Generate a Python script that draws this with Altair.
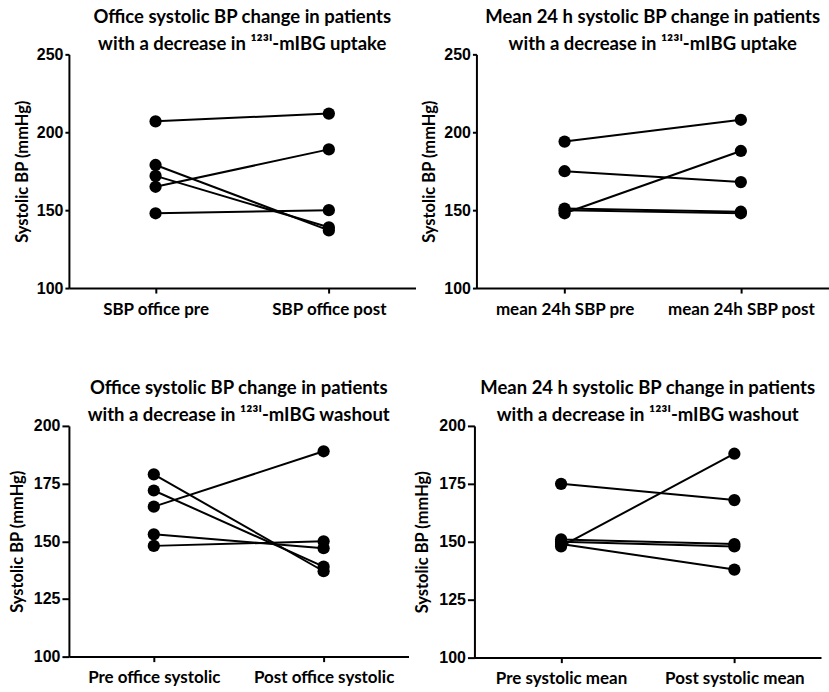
import altair as alt
import pandas as pd

# ---- data ----
p1_labels = ["SBP office pre", "SBP office post"]
p1_pre = [207, 179, 172, 165, 148]
p1_post = [212, 137, 139, 189, 150]

p2_labels = ["mean 24h SBP pre", "mean 24h SBP post"]
p2_pre = [194, 175, 148, 151, 150]
p2_post = [208, 168, 188, 149, 148]

p3_labels = ["Pre office systolic", "Post office systolic"]
p3_pre = [179, 172, 165, 153, 148]
p3_post = [137, 139, 189, 147, 150]

p4_labels = ["Pre systolic mean", "Post systolic mean"]
p4_pre = [175, 148, 151, 150, 149]
p4_post = [168, 188, 149, 148, 138]

t1 = ["Office systolic BP change in patients", "with a decrease in ¹²³ᴵ-mIBG uptake"]
t2 = ["Mean 24 h systolic  BP change in patients", "with a decrease in ¹²³ᴵ-mIBG uptake"]
t3 = ["Office systolic BP change in patients", "with a decrease in ¹²³ᴵ-mIBG washout"]
t4 = ["Mean 24 h systolic BP change in patients", "with a decrease in ¹²³ᴵ-mIBG washout"]

top_domain = [100, 250]
top_ticks = [100, 150, 200, 250]
bot_domain = [100, 200]
bot_ticks = [100, 125, 150, 175, 200]

LABEL_FONT = "Lato"
NUM_FONT = "Liberation Sans"


def panel(labels, pre, post, title, domain, ticks, width, height, tick_size=4, title_pad=6):
    n = len(pre)
    df = pd.DataFrame({
        "patient": list(range(n)) * 2,
        "phase": [labels[0]] * n + [labels[1]] * n,
        "sbp": list(pre) + list(post),
    })
    x = alt.X("phase:N", sort=labels,
              scale=alt.Scale(type="point", padding=0.5),
              axis=alt.Axis(title=None, labelAngle=0, labelFont=LABEL_FONT,
                            labelFontSize=17, labelFontWeight="bold",
                            labelColor="black", labelPadding=8, tickSize=5))
    y = alt.Y("sbp:Q",
              scale=alt.Scale(domain=domain, nice=False, zero=False),
              axis=alt.Axis(values=ticks, title="Systolic BP (mmHg)", grid=False,
                            labelFont=NUM_FONT, labelFontSize=16,
                            labelFontWeight="bold", labelColor="black",
                            labelPadding=2, tickSize=tick_size,
                            titleFont=LABEL_FONT, titleFontSize=16.5,
                            titleFontWeight="bold", titleColor="black",
                            titlePadding=title_pad))
    base = alt.Chart(df).encode(x=x, y=y, detail="patient:N")
    lines = base.mark_line(color="black", strokeWidth=2)
    pts = base.mark_circle(color="black", size=150, opacity=1)
    return alt.layer(lines, pts).properties(
        width=width, height=height,
        title=alt.TitleParams(title, font=LABEL_FONT, fontSize=18.5,
                              fontWeight="bold", color="black",
                              anchor="middle", offset=-7, lineHeight=27),
    )


c1 = panel(p1_labels, p1_pre, p1_post, t1, top_domain, top_ticks, 347, 234)
c2 = panel(p2_labels, p2_pre, p2_post, t2, top_domain, top_ticks, 353, 234)
c3 = panel(p3_labels, p3_pre, p3_post, t3, bot_domain, bot_ticks, 340, 231, tick_size=7, title_pad=8)
c4 = panel(p4_labels, p4_pre, p4_post, t4, bot_domain, bot_ticks, 347, 232, tick_size=7, title_pad=8)

chart = alt.vconcat(
    alt.hconcat(c1, c2, spacing=6),
    alt.hconcat(c3, c4, spacing=6),
    spacing=62,
).properties(
    padding={"left": 9, "top": 7, "right": 0, "bottom": 0},
    background="white",
).configure_view(stroke="transparent", strokeWidth=0).configure_axis(
    domainColor="black", domainWidth=2, tickColor="black", tickWidth=2
)

chart.save("out.html", embed_options={"renderer": "svg", "actions": False})
